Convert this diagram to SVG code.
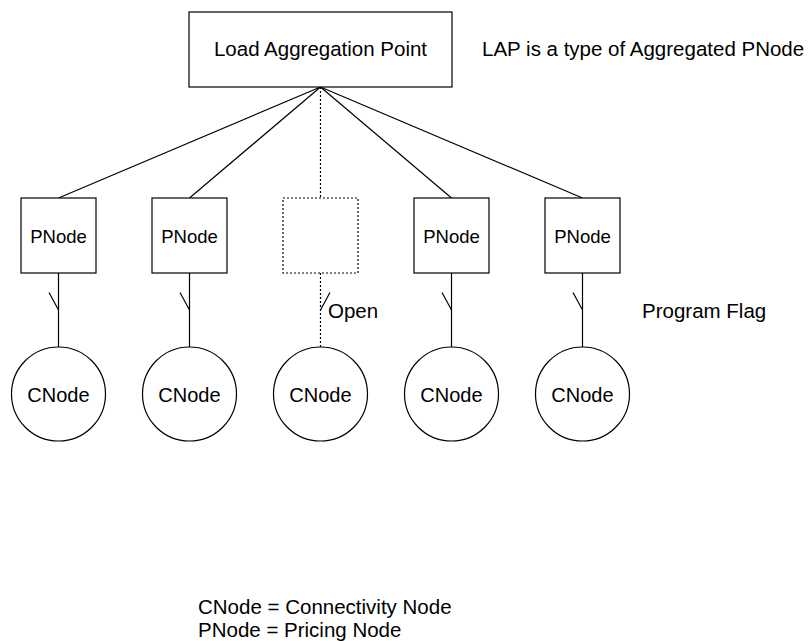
<svg xmlns="http://www.w3.org/2000/svg" width="812" height="641" viewBox="0 0 812 641">
<style>
  .box{fill:#fff;stroke:#000;stroke-width:1.2}
  .dbox{fill:#fff;stroke:#000;stroke-width:1.2;stroke-dasharray:2,2}
  .ln{fill:none;stroke:#000;stroke-width:1.2}
  .dln{fill:none;stroke:#000;stroke-width:1.2;stroke-dasharray:2,2}
  text{font-family:"Liberation Sans",Arial,sans-serif;fill:#000}
  .t{font-size:20.5px}
  .p{font-size:18.5px;text-anchor:middle}
  .c{font-size:20px;text-anchor:middle}
</style>
<rect width="812" height="641" fill="#fff"/>
<g id="connectors">
  <line class="ln" x1="320.5" y1="87" x2="58.5" y2="198"/>
  <line class="ln" x1="320.5" y1="87" x2="189.5" y2="198"/>
  <line class="dln" x1="320.5" y1="87" x2="320.5" y2="198"/>
  <line class="ln" x1="320.5" y1="87" x2="451.5" y2="198"/>
  <line class="ln" x1="320.5" y1="87" x2="582.5" y2="198"/>
  <line class="ln" x1="58.5" y1="273" x2="58.5" y2="347"/>
  <line class="ln" x1="49" y1="292.5" x2="58.5" y2="310"/>
  <line class="ln" x1="189.5" y1="273" x2="189.5" y2="347"/>
  <line class="ln" x1="180" y1="292.5" x2="189.5" y2="310"/>
  <line class="dln" x1="320.5" y1="273" x2="320.5" y2="347"/>
  <line class="ln" x1="320.5" y1="310" x2="330" y2="292.5"/>
  <line class="ln" x1="451.5" y1="273" x2="451.5" y2="347"/>
  <line class="ln" x1="442" y1="292.5" x2="451.5" y2="310"/>
  <line class="ln" x1="582.5" y1="273" x2="582.5" y2="347"/>
  <line class="ln" x1="573" y1="292.5" x2="582.5" y2="310"/>
</g>
<g id="lap">
  <rect class="box" x="189" y="12" width="263" height="75"/>
  <text class="t" x="320.5" y="56" text-anchor="middle">Load Aggregation Point</text>
</g>
<g id="p1"><rect class="box" x="21" y="198" width="75" height="75"/><text class="p" x="58.5" y="242.5">PNode</text></g>
<g id="p2"><rect class="box" x="152" y="198" width="75" height="75"/><text class="p" x="189.5" y="242.5">PNode</text></g>
<g id="p3"><rect class="dbox" x="283" y="198" width="75" height="75"/></g>
<g id="p4"><rect class="box" x="414" y="198" width="75" height="75"/><text class="p" x="451.5" y="242.5">PNode</text></g>
<g id="p5"><rect class="box" x="545" y="198" width="75" height="75"/><text class="p" x="582.5" y="242.5">PNode</text></g>
<g id="c1"><circle class="box" cx="58.5" cy="394" r="47"/><text class="c" x="58.5" y="402">CNode</text></g>
<g id="c2"><circle class="box" cx="189.5" cy="394" r="47"/><text class="c" x="189.5" y="402">CNode</text></g>
<g id="c3"><circle class="box" cx="320.5" cy="394" r="47"/><text class="c" x="320.5" y="402">CNode</text></g>
<g id="c4"><circle class="box" cx="451.5" cy="394" r="47"/><text class="c" x="451.5" y="402">CNode</text></g>
<g id="c5"><circle class="box" cx="582.5" cy="394" r="47"/><text class="c" x="582.5" y="402">CNode</text></g>
<g id="labels">
  <text class="t" x="482" y="56">LAP is a type of Aggregated PNode</text>
  <text class="t" x="328" y="318">Open</text>
  <text class="t" x="642" y="318">Program Flag</text>
  <text class="t" x="198" y="614">CNode = Connectivity Node</text>
  <text class="t" x="198" y="637">PNode = Pricing Node</text>
</g>
</svg>
